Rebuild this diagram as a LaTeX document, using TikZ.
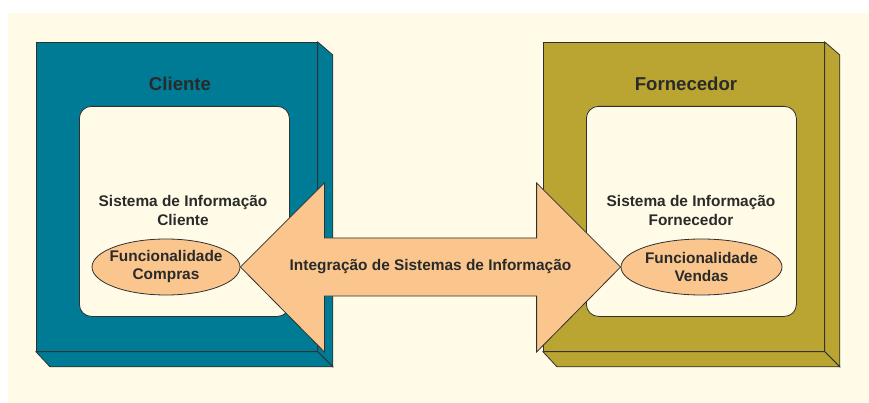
\documentclass[tikz,border=0pt]{standalone}
\usepackage{fontspec}
\setmainfont{Liberation Sans}
\usetikzlibrary{shapes.geometric,calc}
\definecolor{bgcream}{HTML}{FFFBE6}
\definecolor{tealbox}{HTML}{007B95}
\definecolor{olivebox}{HTML}{BBA532}
\definecolor{peach}{HTML}{FAC68D}
\definecolor{ink}{HTML}{2A2A2A}
\definecolor{edge}{HTML}{303030}
\tikzset{
  edgeline/.style={draw=edge, line width=0.8pt, line join=miter},
  frontface/.style={edgeline, minimum width=281pt, minimum height=309pt, inner sep=0pt, anchor=north west},
  innerbox/.style={edgeline, fill=bgcream, rounded corners=12pt, minimum width=210pt, minimum height=210pt, inner sep=0pt, anchor=north west},
  titletext/.style={font=\bfseries\fontsize{18.6}{22}\selectfont, text=ink, inner sep=0pt},
  bodytext/.style={font=\bfseries\fontsize{15.4}{19}\selectfont, text=ink, align=center, inner sep=0pt},
  funcell/.style={edgeline, fill=peach, ellipse, inner sep=0pt, minimum height=56pt},
  functext/.style={font=\bfseries\fontsize{15.4}{18}\selectfont, text=ink, align=center, inner sep=0pt},
}
\begin{document}
\begin{tikzpicture}[x=1pt, y=-1pt]
\useasboundingbox (0,0) rectangle (869,403);
\fill[white] (0,0) rectangle (869,403);
\fill[bgcream] (8,13) rectangle (869,403);

% Cliente box
\node[frontface, fill=tealbox] (cli) at (36,42) {};
\draw[edgeline, fill=tealbox] (cli.north east) -- ++(15,13) -- ($(cli.south east)+(15,15)$) -- (cli.south east) -- cycle;
\draw[edgeline, fill=tealbox] (cli.south west) -- (cli.south east) -- ++(15,15) -- ($(cli.south west)+(14,15)$) -- cycle;
\node[innerbox] (clin) at (79,106) {};
\node[titletext] (clit) at (180,84) {Cliente};
\node[bodytext] (clis) at (183,210.5) {Sistema de Informação\\Cliente};
\node[funcell, minimum width=148pt] (fc) at (166,267) {};
\node[functext] (fct) at (fc) {Funcionalidade\\Compras};

% Fornecedor box
\node[frontface, fill=olivebox] (for) at (543,42) {};
\draw[edgeline, fill=olivebox] (for.north east) -- ++(15,13) -- ($(for.south east)+(15,15)$) -- (for.south east) -- cycle;
\draw[edgeline, fill=olivebox] (for.south west) -- (for.south east) -- ++(15,15) -- ($(for.south west)+(14,15)$) -- cycle;
\node[innerbox] (forin) at (586,106) {};
\node[titletext] (fort) at (686,84) {Fornecedor};
\node[bodytext] (fors) at (691,210.5) {Sistema de Informação\\Fornecedor};
\node[funcell, minimum width=161pt] (fv) at (701.5,267) {};
\node[functext] (fvt) at (fv) {Funcionalidade\\Vendas};

% Double arrow
\draw[edgeline, fill=peach] (fc.east) -- ++(84,-84) -- ++(0,55) -- ($(fv.west)+(-84,-29)$) -- ++(0,-55) -- (fv.west)
  -- ++(-84,85) -- ++(0,-56) -- ($(fc.east)+(84,29)$) -- ++(0,56) -- cycle;
\node[bodytext] (integ) at ($(fc.east)!0.5!(fv.west)$) {Integração de Sistemas de Informação};
\end{tikzpicture}
\end{document}
